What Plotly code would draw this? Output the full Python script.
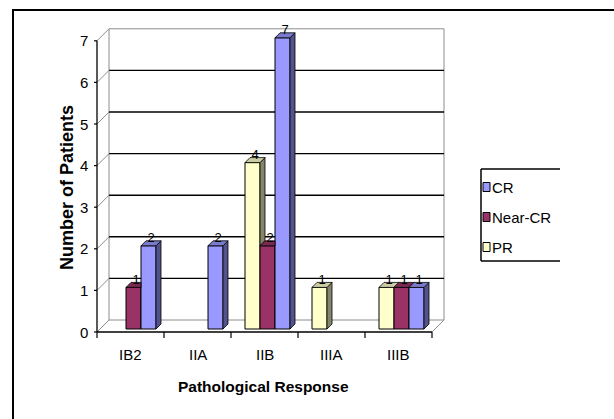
import plotly.graph_objects as go

# ---- data -------------------------------------------------------------
stages = ["IB2", "IIA", "IIB", "IIIA", "IIIB"]
series_names = ["PR", "Near-CR", "CR"]          # left-to-right order inside a stage
pr_counts = [0, 0, 4, 1, 1]
near_cr_counts = [1, 0, 2, 0, 1]
cr_counts = [2, 2, 7, 0, 1]
y_tick_values = [0, 1, 2, 3, 4, 5, 6, 7]
legend_names = ["CR", "Near-CR", "PR"]

series_values = [pr_counts, near_cr_counts, cr_counts]

# ---- styling ----------------------------------------------------------
front_colors = {"CR": "#9999FF", "Near-CR": "#993366", "PR": "#FFFFCC"}
side_colors = {"CR": "#52528C", "Near-CR": "#521C37", "PR": "#85856A"}
top_colors = {"CR": "#7A7ACC", "Near-CR": "#7A2952", "PR": "#CCCCA3"}

NARROW = "Liberation Sans Narrow, Arial Narrow, Liberation Sans, Arial, sans-serif"
REGULAR = "Liberation Sans, Arial, sans-serif"

W, H = 614, 419
CAT_PX = 67.0        # pixels per category
UNIT_PX = 41.6       # pixels per patient
ORIGIN_X_PX = 100.0  # pixel column of x = -0.5 (bar plane)
ORIGIN_Y_PX = 329.0  # pixel row of y = 0 (bar plane)


def ox(px):
    return px / CAT_PX


def oy(px):
    return px / UNIT_PX


def paper_x(px):
    return px / W


def paper_y(py):
    return 1 - py / H


x_range = [-0.5 - ORIGIN_X_PX / CAT_PX, -0.5 + (W - ORIGIN_X_PX) / CAT_PX]
y_range = [-(H - ORIGIN_Y_PX) / UNIT_PX, ORIGIN_Y_PX / UNIT_PX]

# depth offsets of the pseudo-3D scene
FX, FY = ox(-3), oy(-3)   # front plane (axes)
BX, BY = ox(9), oy(9)     # back wall
DX, DY = ox(5), oy(5)     # bar depth

n_stages = len(stages)
n_series = len(series_names)
bar_w = 15.0 / CAT_PX
x_left, x_right = -0.5, n_stages - 0.5
y_top = max(y_tick_values)

fig = go.Figure()

# front faces of the bars (empty cells are left blank)
for k, name in enumerate(series_names):
    fig.add_trace(go.Bar(
        x=list(range(n_stages)), y=[v if v > 0 else None for v in series_values[k]], name=name,
        marker=dict(color=front_colors[name], line=dict(color="black", width=1)),
        showlegend=False, hoverinfo="x+y+name",
    ))

# side and top faces, painted left to right
for i in range(n_stages):
    for k, name in enumerate(series_names):
        h = series_values[k][i]
        if h <= 0:
            continue
        xl = i + (k - (n_series - 1) / 2) * bar_w - bar_w / 2
        xr = xl + bar_w
        nxt = series_values[k + 1][i] if k + 1 < n_series else 0
        if nxt < h:
            fig.add_trace(go.Scatter(
                x=[xr, xr, xr + DX, xr + DX, xr], y=[nxt, h, h + DY, nxt + DY, nxt],
                mode="lines", fill="toself", fillcolor=side_colors[name],
                line=dict(color="black", width=0.8), hoverinfo="skip", showlegend=False))
        if nxt > h:
            tx = [xl, xr, xr, xl + DX, xl]
        else:
            tx = [xl, xr, xr + DX, xl + DX, xl]
        ty = [h, h, h + DY, h + DY, h]
        fig.add_trace(go.Scatter(
            x=tx, y=ty, mode="lines", fill="toself", fillcolor=top_colors[name],
            line=dict(color="black", width=0.8), hoverinfo="skip", showlegend=False))

# value labels on top of the bars
lx, ly, lt = [], [], []
for i in range(n_stages):
    for k in range(n_series):
        h = series_values[k][i]
        if h <= 0:
            continue
        lx.append(i + (k - (n_series - 1) / 2) * bar_w + DX / 2)
        ly.append(h + oy(7))
        lt.append(str(h))
fig.add_trace(go.Scatter(
    x=lx, y=ly, text=lt, mode="text", textposition="middle center",
    textfont=dict(family=NARROW, size=13, color="black"),
    hoverinfo="skip", showlegend=False, cliponaxis=False))

# ---- walls, floor and axes --------------------------------------------
shapes = []


def seg(x0, y0, x1, y1, color, width=1.0):
    shapes.append(dict(type="line", xref="x", yref="y", x0=x0, y0=y0, x1=x1, y1=y1,
                       line=dict(color=color, width=width), layer="below"))


GRAY = "#8C8C8C"
seg(x_left + BX, BY, x_left + BX, y_top + BY, GRAY)
seg(x_right + BX, BY, x_right + BX, y_top + BY, GRAY)
seg(x_left + BX, y_top + BY, x_right + BX, y_top + BY, GRAY)
seg(x_left + BX, BY, x_right + BX, BY, GRAY)
for v in y_tick_values:
    if 0 < v < y_top:
        seg(x_left + BX, v + BY, x_right + BX, v + BY, "black", 1.4)
    seg(x_left + FX, v + FY, x_left + BX, v + BY, GRAY)
    seg(x_left + FX + ox(-3), v + FY, x_left + FX, v + FY, "black", 1.2)
seg(x_right + FX, FY, x_right + BX, BY, GRAY)
seg(x_left + FX, FY, x_left + FX, y_top + FY, "black", 1.3)
seg(x_left + FX, FY, x_right + FX, FY, "black", 1.3)
for b in range(n_stages + 1):
    seg(b - 0.5 + FX, FY, b - 0.5 + FX, FY + oy(-6), "black", 1.2)

# outer frame
shapes.append(dict(type="rect", xref="paper", yref="paper",
                   x0=paper_x(13), y0=paper_y(440), x1=paper_x(640), y1=paper_y(10),
                   line=dict(color="black", width=2)))

# legend box (open on its right side)
LG_L, LG_T, LG_B, LG_R = 481, 169, 261, 560
for (x0, y0, x1, y1) in [(LG_L, LG_T, LG_L, LG_B), (LG_L, LG_T, LG_R, LG_T), (LG_L, LG_B, LG_R, LG_B)]:
    shapes.append(dict(type="line", xref="paper", yref="paper",
                       x0=paper_x(x0), y0=paper_y(y0), x1=paper_x(x1), y1=paper_y(y1),
                       line=dict(color="black", width=1.5)))

annotations = []
row_y = [187, 217, 247]
for name, cy in zip(legend_names, row_y):
    shapes.append(dict(type="rect", xref="paper", yref="paper",
                       x0=paper_x(483), x1=paper_x(490), y0=paper_y(cy + 4.5), y1=paper_y(cy - 4.5),
                       fillcolor=front_colors[name], line=dict(color="black", width=1)))
    annotations.append(dict(xref="paper", yref="paper", x=paper_x(490), y=paper_y(cy),
                            xanchor="left", yanchor="middle", text=name, showarrow=False,
                            font=dict(family=NARROW, size=15, color="black")))

# tick labels
for v in y_tick_values:
    annotations.append(dict(xref="x", yref="y", x=x_left + FX, y=v + FY, xshift=-7,
                            xanchor="right", yanchor="middle", text=str(v), showarrow=False,
                            font=dict(family=NARROW, size=15, color="black")))
for i, s in enumerate(stages):
    annotations.append(dict(xref="x", yref="paper", x=i + FX, y=paper_y(354),
                            xanchor="center", yanchor="middle", text=s, showarrow=False,
                            font=dict(family=NARROW, size=15, color="black")))

# axis titles
annotations.append(dict(xref="paper", yref="paper", x=paper_x(263), y=paper_y(386),
                        xanchor="center", yanchor="middle", text="<b>Pathological Response</b>",
                        showarrow=False, font=dict(family=NARROW, size=15.5, color="black")))
annotations.append(dict(xref="paper", yref="paper", x=paper_x(67), y=paper_y(188),
                        xanchor="center", yanchor="middle", text="<b>Number of Patients</b>",
                        textangle=-90, showarrow=False,
                        font=dict(family=REGULAR, size=18, color="black")))

fig.update_layout(
    width=W, height=H, autosize=False,
    margin=dict(l=0, r=0, t=0, b=0, pad=0),
    paper_bgcolor="white", plot_bgcolor="white",
    barmode="group", bargap=1 - n_series * bar_w, bargroupgap=0,
    xaxis=dict(range=x_range, visible=False, fixedrange=True),
    yaxis=dict(range=y_range, visible=False, fixedrange=True),
    shapes=shapes, annotations=annotations, showlegend=False,
)

fig.write_html("out.html")
